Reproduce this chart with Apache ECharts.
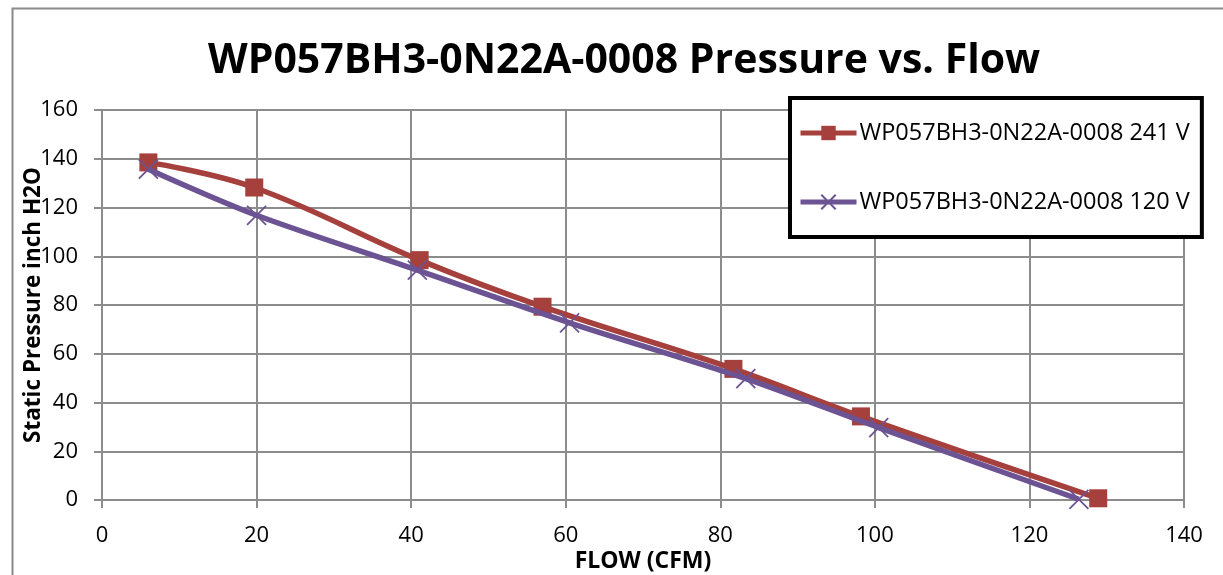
<!DOCTYPE html>
<html>
<head>
<meta charset="utf-8">
<script src="https://cdn.jsdelivr.net/npm/echarts@6/dist/echarts.min.js"></script>
<style>html,body{margin:0;padding:0;background:#fff;}#c{width:1223px;height:575px;}</style>
</head>
<body>
<div id="c"></div>
<script>
const titleText = 'WP057BH3-0N22A-0008 Pressure vs. Flow';
const xName = 'FLOW (CFM)';
const yName = 'Static Pressure inch H2O';
const name241 = 'WP057BH3-0N22A-0008 241 V';
const name120 = 'WP057BH3-0N22A-0008 120 V';
const flow241 = [6.0, 19.7, 41.1, 57.0, 81.7, 98.2, 128.9];
const pres241 = [138.5, 128.2, 98.4, 79.3, 53.8, 34.3, 0.7];
const flow120 = [6.0, 20.0, 40.8, 60.5, 83.3, 100.5, 126.4];
const pres120 = [135.7, 116.8, 94.3, 72.7, 49.8, 29.7, 0.3];
const xTicks = [0, 20, 40, 60, 80, 100, 120, 140];
const yTicks = [0, 20, 40, 60, 80, 100, 120, 140, 160];

const FONT = 'Open Sans';
const RED = '#A5403C';
const PURPLE = '#6C5393';
const GRID = '#8c8c8c';

const pair = (xs, ys) => xs.map((x, i) => [x, ys[i]]);

const chart = echarts.init(document.getElementById('c'), null, {renderer: 'canvas'});
chart.setOption({
  animation: false,
  backgroundColor: '#fff',
  graphic: [{
    type: 'rect', left: 10, top: 6, z: -1,
    shape: {width: 1400, height: 800},
    style: {fill: 'none', stroke: '#8a8a8a', lineWidth: 2}
  }],
  title: {
    text: titleText, left: 203, top: 36,
    textStyle: {fontFamily: FONT, fontWeight: 'bold', fontSize: 41, color: '#000'}
  },
  legend: {
    orient: 'vertical', left: 790, top: 98,
    padding: [20, 12, 20, 8], itemGap: 39,
    itemWidth: 56, itemHeight: 18,
    borderColor: '#000', borderWidth: 4, backgroundColor: '#fff',
    lineStyle: {width: 5},
    textStyle: {fontFamily: FONT, fontSize: 23.5, color: '#000', lineHeight: 30, padding: [0,0,0,-2]},
    data: [name241, name120]
  },
  grid: {left: 102, right: 39, top: 110, bottom: 75, containLabel: false, outerBoundsMode: 'none'},
  xAxis: {
    type: 'value', min: 0, max: 140, interval: 20,
    name: xName, nameLocation: 'middle', nameGap: 50, nameMoveOverlap: false,
    nameTextStyle: {fontFamily: FONT, fontWeight: 'bold', fontSize: 23, color: '#000'},
    axisLine: {show: true, lineStyle: {color: GRID, width: 2}},
    axisTick: {show: true, length: 8, lineStyle: {color: GRID, width: 2}},
    axisLabel: {fontFamily: FONT, fontSize: 22, color: '#000', margin: 25,
      formatter: v => xTicks.includes(v) ? String(v) : ''},
    splitLine: {show: true, lineStyle: {color: GRID, width: 2}}
  },
  yAxis: {
    type: 'value', min: 0, max: 160, interval: 20,
    name: yName, nameLocation: 'middle', nameGap: 57, nameMoveOverlap: false,
    nameTextStyle: {fontFamily: FONT, fontWeight: 'bold', fontSize: 22.5, color: '#000'},
    axisLine: {show: true, lineStyle: {color: GRID, width: 2}},
    axisTick: {show: true, length: 8, lineStyle: {color: GRID, width: 2}},
    axisLabel: {fontFamily: FONT, fontSize: 22, color: '#000', margin: 24,
      formatter: v => yTicks.includes(v) ? String(v) : ''},
    splitLine: {show: true, lineStyle: {color: GRID, width: 2}}
  },
  series: [
    {
      name: name241, type: 'line', smooth: 0.4,
      data: pair(flow241, pres241),
      symbol: 'rect', symbolSize: 18,
      lineStyle: {color: RED, width: 5.5},
      itemStyle: {color: RED, borderWidth: 0},
      z: 2
    },
    {
      name: name120, type: 'line', smooth: 0.3,
      data: pair(flow120, pres120),
      symbol: 'path://M0,0L10,10M10,0L0,10', symbolSize: 19,
      lineStyle: {color: PURPLE, width: 5.5},
      itemStyle: {color: PURPLE, borderColor: PURPLE, borderWidth: 1.8},
      z: 3
    }
  ]
});
</script>
</body>
</html>
